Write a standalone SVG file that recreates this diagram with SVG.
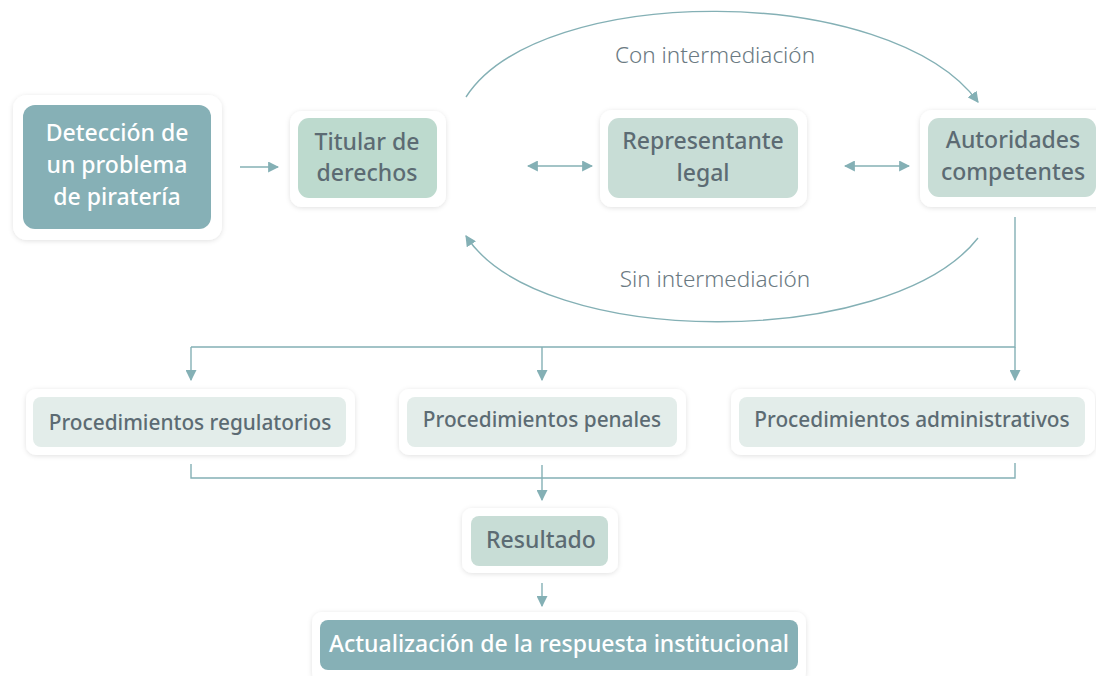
<svg xmlns="http://www.w3.org/2000/svg" width="1096" height="676" viewBox="0 0 1096 676">
<style>
.card{fill:#ffffff;filter:url(#sh)}
.dark{fill:#86b0b6}
.green{fill:#bddace}
.mid{fill:#c8ddd6}
.pale{fill:#e3edea}
.tw{font-family:"Noto Sans","Open Sans",sans-serif;font-weight:500;fill:#ffffff;text-anchor:middle}
.tg{font-family:"Noto Sans","Open Sans",sans-serif;font-weight:500;fill:#5c6b73;text-anchor:middle}
.lbl{font-family:"Noto Sans","Open Sans",sans-serif;font-weight:300;fill:#6b7a82;text-anchor:middle;font-size:22.5px}
.ln{fill:none;stroke:#84b0b5;stroke-width:1.4}
</style>
<defs>
<filter id="sh" x="-10%" y="-20%" width="120%" height="140%">
<feDropShadow dx="0" dy="1" stdDeviation="2.5" flood-color="#000000" flood-opacity="0.12"/>
</filter>
<marker id="ah" viewBox="0 0 10 10" refX="9" refY="5" markerWidth="11" markerHeight="11" markerUnits="userSpaceOnUse" orient="auto-start-reverse">
<path d="M0,0 L10,5 L0,10 z" fill="#84b0b5"/>
</marker>
</defs>
<rect width="1096" height="676" fill="#ffffff"/>

<g id="connectors">
<line class="ln" x1="240" y1="167" x2="278" y2="167" marker-end="url(#ah)"/>
<line class="ln" x1="528" y1="166" x2="592" y2="166" marker-start="url(#ah)" marker-end="url(#ah)"/>
<line class="ln" x1="845" y1="166" x2="909" y2="166" marker-start="url(#ah)" marker-end="url(#ah)"/>
<path class="ln" d="M466,97 C540,-18 890,-18 978,102" marker-end="url(#ah)"/>
<path class="ln" d="M978,238 C890,350 540,350 466,236" marker-end="url(#ah)"/>
<polyline class="ln" points="1015,217 1015,347 191,347"/>
<line class="ln" x1="191" y1="347" x2="191" y2="380" marker-end="url(#ah)"/>
<line class="ln" x1="542" y1="347" x2="542" y2="380" marker-end="url(#ah)"/>
<line class="ln" x1="1015" y1="347" x2="1015" y2="380" marker-end="url(#ah)"/>
<polyline class="ln" points="191,464 191,478 1015,478 1015,463"/>
<line class="ln" x1="542" y1="465" x2="542" y2="500" marker-end="url(#ah)"/>
<line class="ln" x1="542" y1="583" x2="542" y2="606" marker-end="url(#ah)"/>
<text class="lbl" x="715" y="63">Con intermediación</text>
<text class="lbl" x="715" y="287">Sin intermediación</text>
</g>

<g id="deteccion">
<rect class="card" x="13" y="95" width="209" height="145" rx="14"/>
<rect class="dark" x="23" y="105" width="188" height="124" rx="12"/>
<text class="tw" font-size="23"><tspan x="117" y="141">Detección de</tspan><tspan x="117" y="173">un problema</tspan><tspan x="117" y="205">de piratería</tspan></text>
</g>

<g id="titular">
<rect class="card" x="290" y="111" width="156" height="96" rx="12"/>
<rect class="green" x="298" y="118" width="139" height="80" rx="11"/>
<text class="tg" font-size="23"><tspan x="367" y="150">Titular de</tspan><tspan x="367" y="181">derechos</tspan></text>
</g>

<g id="representante">
<rect class="card" x="600" y="110" width="207" height="97" rx="12"/>
<rect class="mid" x="608" y="118" width="190" height="80" rx="11"/>
<text class="tg" font-size="23"><tspan x="703" y="149">Representante</tspan><tspan x="703" y="181">legal</tspan></text>
</g>

<g id="autoridades">
<rect class="card" x="920" y="110" width="190" height="97" rx="12"/>
<rect class="mid" x="928" y="118" width="168" height="79" rx="11"/>
<text class="tg" font-size="23"><tspan x="1013" y="148">Autoridades</tspan><tspan x="1013" y="180">competentes</tspan></text>
</g>

<g id="regulatorios">
<rect class="card" x="26" y="389" width="329" height="66" rx="10"/>
<rect class="pale" x="33" y="397" width="313" height="50" rx="8"/>
<text class="tg" font-size="20.8" x="190" y="430">Procedimientos regulatorios</text>
</g>

<g id="penales">
<rect class="card" x="399" y="389" width="287" height="66" rx="10"/>
<rect class="pale" x="407" y="397" width="270" height="50" rx="8"/>
<text class="tg" font-size="20.8" x="542" y="427">Procedimientos penales</text>
</g>

<g id="administrativos">
<rect class="card" x="731" y="389" width="364" height="66" rx="10"/>
<rect class="pale" x="739" y="397" width="346" height="50" rx="8"/>
<text class="tg" font-size="20.8" x="912" y="427">Procedimientos administrativos</text>
</g>

<g id="resultado">
<rect class="card" x="462" y="508" width="156" height="65" rx="10"/>
<rect class="mid" x="471" y="516" width="137" height="50" rx="8"/>
<text class="tg" font-size="23" x="541" y="548">Resultado</text>
</g>

<g id="actualizacion">
<rect class="card" x="312" y="612" width="494" height="70" rx="10"/>
<rect class="dark" x="320" y="620" width="478" height="50" rx="8"/>
<text class="tw" font-size="23" x="559" y="652">Actualización de la respuesta institucional</text>
</g>
</svg>
